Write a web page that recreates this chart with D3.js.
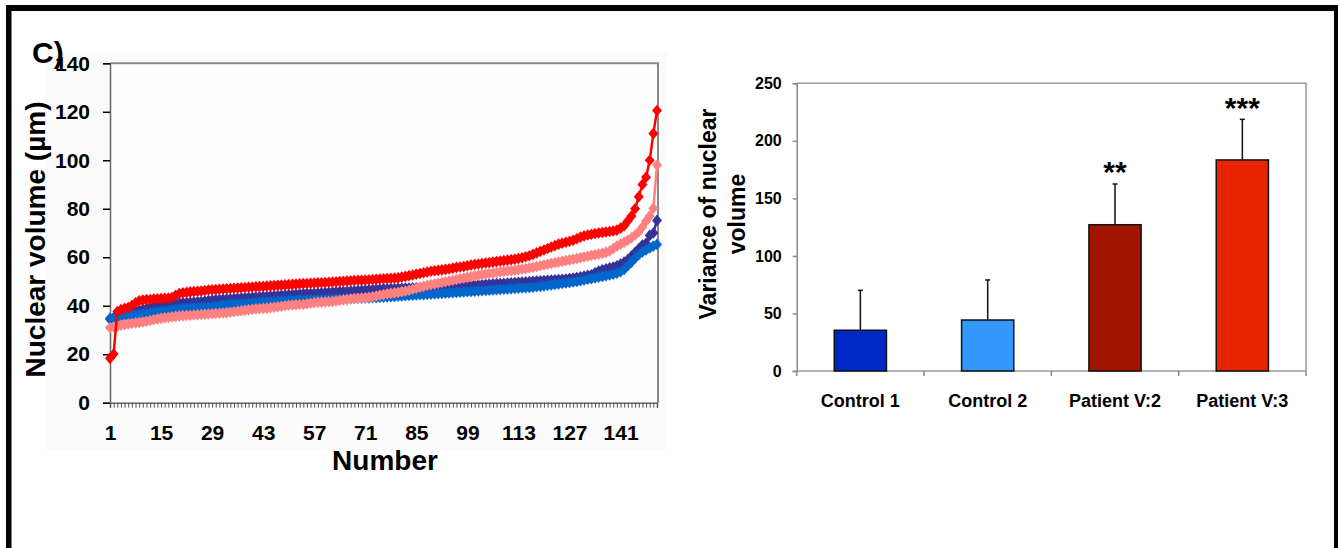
<!DOCTYPE html>
<html>
<head>
<meta charset="utf-8">
<script src="https://cdn.jsdelivr.net/npm/d3@7"></script>
<style>
  html, body { margin: 0; padding: 0; background: #fff; }
  svg { display: block; font-family: "Liberation Sans", Arial, sans-serif; }
</style>
</head>
<body>
<svg id="chart" width="1338" height="548"></svg>
<script>
// ---------------- Left panel data (sorted nuclear volumes, 151 nuclei each) ----------------
const seriesRed = [
  18.3, 20.1, 37.6, 38.4, 38.9, 39.3, 40.1, 41.2, 42.0, 42.3,
  42.5, 42.6, 42.8, 42.9, 43.0, 43.1, 43.2, 43.4, 44.3, 45.0,
  45.3, 45.5, 45.7, 45.9, 46.0, 46.1, 46.3, 46.5, 46.6, 46.7,
  46.8, 46.9, 47.0, 47.1, 47.2, 47.3, 47.4, 47.5, 47.6, 47.7,
  47.8, 47.9, 48.0, 48.1, 48.2, 48.3, 48.4, 48.5, 48.6, 48.7,
  48.8, 48.9, 49.0, 49.1, 49.2, 49.3, 49.4, 49.5, 49.5, 49.6,
  49.7, 49.8, 49.9, 50.0, 50.1, 50.2, 50.3, 50.4, 50.5, 50.5,
  50.6, 50.7, 50.8, 50.9, 51.0, 51.1, 51.2, 51.3, 51.4, 51.5,
  51.8, 52.1, 52.4, 52.7, 53.0, 53.3, 53.6, 53.9, 54.2, 54.4,
  54.6, 54.8, 55.0, 55.2, 55.5, 55.8, 56.0, 56.2, 56.5, 56.8,
  57.0, 57.2, 57.4, 57.6, 57.8, 58.0, 58.2, 58.4, 58.6, 58.8,
  59.0, 59.2, 59.5, 59.8, 60.2, 60.6, 61.2, 61.8, 62.4, 63.0,
  63.6, 64.2, 64.8, 65.4, 65.8, 66.2, 66.6, 67.0, 67.6, 68.3,
  68.8, 69.2, 69.5, 69.8, 70.0, 70.2, 70.4, 70.6, 70.8, 71.2,
  72.0, 73.0, 75.0, 77.0, 80.0, 85.0, 90.0, 93.0, 100.0, 111.0, 120.5
];
const seriesPink = [
  30.9, 31.2, 31.6, 32.0, 32.3, 32.5, 32.7, 32.9, 33.1, 33.3,
  33.6, 33.9, 34.2, 34.5, 34.8, 35.0, 35.2, 35.4, 35.6, 35.8,
  35.9, 36.0, 36.1, 36.2, 36.3, 36.4, 36.5, 36.6, 36.7, 36.8,
  36.9, 37.0, 37.1, 37.3, 37.5, 37.7, 37.9, 38.1, 38.3, 38.5,
  38.7, 38.8, 38.9, 39.0, 39.2, 39.4, 39.6, 39.8, 40.0, 40.2,
  40.3, 40.4, 40.5, 40.6, 40.8, 41.0, 41.2, 41.4, 41.5, 41.6,
  41.7, 41.8, 42.0, 42.2, 42.4, 42.6, 42.8, 43.0, 43.1, 43.2,
  43.3, 43.5, 43.7, 44.0, 44.3, 44.6, 44.9, 45.1, 45.3, 45.5,
  45.8, 46.1, 46.4, 46.8, 47.2, 47.6, 48.0, 48.4, 48.7, 49.0,
  49.3, 49.6, 49.9, 50.2, 50.5, 50.8, 51.1, 51.4, 51.7, 52.0,
  52.3, 52.6, 52.9, 53.1, 53.3, 53.5, 53.7, 53.9, 54.1, 54.3,
  54.5, 54.7, 54.9, 55.1, 55.3, 55.6, 55.9, 56.2, 56.5, 56.8,
  57.1, 57.4, 57.7, 58.0, 58.3, 58.6, 58.9, 59.2, 59.5, 59.8,
  60.1, 60.4, 60.7, 61.0, 61.3, 61.6, 62.0, 62.6, 63.6, 64.6,
  65.4, 66.2, 67.0, 68.0, 69.2, 70.5, 72.5, 75.0, 77.0, 80.2, 98.0
];
const seriesNavy = [
  34.4, 35.0, 35.6, 36.2, 36.7, 37.1, 37.5, 37.8, 38.1, 38.4,
  38.8, 39.2, 39.6, 39.9, 40.2, 40.5, 40.7, 40.9, 41.0, 41.1,
  41.2, 41.3, 41.4, 41.5, 41.6, 41.7, 41.9, 42.1, 42.3, 42.5,
  42.6, 42.7, 42.8, 42.9, 43.0, 43.1, 43.2, 43.3, 43.4, 43.5,
  43.6, 43.7, 43.8, 43.9, 44.0, 44.1, 44.2, 44.3, 44.4, 44.5,
  44.6, 44.7, 44.8, 44.9, 45.0, 45.0, 45.1, 45.2, 45.3, 45.4,
  45.5, 45.6, 45.7, 45.8, 45.9, 46.0, 46.1, 46.2, 46.3, 46.4,
  46.5, 46.6, 46.7, 46.8, 46.9, 47.0, 47.0, 47.1, 47.1, 47.2,
  47.2, 47.3, 47.3, 47.4, 47.4, 47.5, 47.5, 47.6, 47.6, 47.7,
  47.7, 47.8, 47.8, 47.9, 47.9, 48.0, 48.1, 48.2, 48.3, 48.4,
  48.5, 48.6, 48.7, 48.8, 48.9, 49.0, 49.1, 49.2, 49.3, 49.4,
  49.5, 49.6, 49.7, 49.8, 49.9, 50.0, 50.1, 50.2, 50.3, 50.4,
  50.5, 50.6, 50.7, 50.8, 50.9, 51.0, 51.2, 51.4, 51.6, 51.9,
  52.2, 52.5, 52.8, 53.6, 54.3, 54.8, 55.2, 55.6, 56.0, 56.5,
  57.2, 58.0, 59.0, 60.5, 62.0, 63.5, 65.0, 65.8, 69.0, 70.0, 75.2
];
const seriesBlue = [
  34.8, 35.0, 35.3, 35.5, 35.7, 35.9, 36.0, 36.2, 36.4, 36.6,
  36.8, 37.0, 37.2, 37.4, 37.6, 37.8, 38.0, 38.2, 38.4, 38.6,
  38.8, 38.9, 39.0, 39.1, 39.2, 39.3, 39.4, 39.5, 39.6, 39.8,
  40.0, 40.2, 40.4, 40.5, 40.6, 40.7, 40.8, 40.9, 41.0, 41.1,
  41.2, 41.3, 41.4, 41.5, 41.6, 41.7, 41.8, 41.9, 42.0, 42.1,
  42.2, 42.2, 42.3, 42.3, 42.4, 42.4, 42.5, 42.5, 42.6, 42.6,
  42.7, 42.7, 42.8, 42.8, 42.9, 42.9, 43.0, 43.0, 43.1, 43.1,
  43.2, 43.2, 43.3, 43.3, 43.4, 43.5, 43.6, 43.7, 43.8, 43.9,
  44.0, 44.1, 44.2, 44.3, 44.4, 44.5, 44.6, 44.7, 44.8, 44.9,
  45.0, 45.1, 45.2, 45.3, 45.4, 45.5, 45.6, 45.7, 45.8, 45.9,
  46.0, 46.1, 46.2, 46.3, 46.4, 46.5, 46.6, 46.7, 46.8, 46.9,
  47.0, 47.1, 47.2, 47.3, 47.4, 47.5, 47.6, 47.8, 48.0, 48.2,
  48.4, 48.6, 48.8, 49.0, 49.2, 49.4, 49.6, 49.8, 50.0, 50.3,
  50.6, 50.9, 51.2, 51.5, 51.8, 52.1, 52.4, 52.7, 53.0, 53.4,
  54.0, 55.0, 56.5, 58.0, 59.6, 61.0, 62.2, 63.0, 63.8, 64.6, 65.3
];
const lineColors = ["#333399", "#0066cc", "#ff8080", "#ff0000"];
const yTicksLeft = [0, 20, 40, 60, 80, 100, 120, 140];
const xLabelEvery = 14;

// ---------------- Right panel data ----------------
const barCategories = ["Control 1", "Control 2", "Patient V:2", "Patient V:3"];
const barValues = [35.4, 44.3, 127.1, 183.4];
const barErrors = [34.7, 34.8, 35.4, 35.3];
const barColors = ["#0028c8", "#3399ff", "#a01400", "#e82400"];
const barStars = ["", "", "**", "***"];
const yTicksRight = [0, 50, 100, 150, 200, 250];

const svg = d3.select("#chart");

// outer frame
svg.append("rect").attr("x", 6).attr("y", 5).attr("width", 1332).attr("height", 6).attr("fill", "#000");
svg.append("rect").attr("x", 6).attr("y", 5).attr("width", 5.5).attr("height", 543).attr("fill", "#000");
svg.append("rect").attr("x", 1334).attr("y", 5).attr("width", 4).attr("height", 543).attr("fill", "#000");

// ---------------- Left panel ----------------
const L = { x0: 110, x1: 657, y0: 402.7, y1: 63.3, right: 658 };
svg.append("rect").attr("x", 45).attr("y", 53).attr("width", 622).attr("height", 397).attr("fill", "#fbfbfb");
svg.append("rect").attr("x", L.x0).attr("y", L.y1).attr("width", L.right - L.x0).attr("height", L.y0 - L.y1).attr("fill", "#fefefe");

const xL = d3.scaleLinear().domain([1, seriesRed.length]).range([L.x0, L.x1]);
const yL = d3.scaleLinear().domain([0, 140]).range([L.y0, L.y1]);

// plot border top/right
svg.append("path").attr("d", `M${L.x0},${L.y1}H${L.right}V${L.y0}`).attr("fill", "none").attr("stroke", "#8a8a8a").attr("stroke-width", 2);

const gyL = svg.append("g").attr("transform", `translate(${L.x0},0)`)
  .call(d3.axisLeft(yL).tickValues(yTicksLeft).tickSize(7).tickPadding(13).tickFormat(d3.format("d")));
gyL.select(".domain").attr("stroke", "#666").attr("stroke-width", 1.5);
gyL.selectAll(".tick line").attr("stroke", "#000").attr("stroke-width", 1.5);
gyL.selectAll("text").attr("font-size", 21).attr("font-weight", "bold").attr("fill", "#000")
  .attr("font-family", "Liberation Sans, Arial, sans-serif");

const idx = d3.range(1, seriesRed.length + 1);
const gxL = svg.append("g").attr("transform", `translate(0,${L.y0})`)
  .call(d3.axisBottom(xL).tickValues(idx).tickSize(5).tickPadding(17)
    .tickFormat(d => ((d - 1) % xLabelEvery === 0 && d <= 141) ? d : ""));
gxL.select(".domain").attr("stroke", "#666").attr("stroke-width", 1.5);
gxL.selectAll(".tick line").attr("stroke", "#555").attr("stroke-width", 1);
gxL.selectAll("text").attr("font-size", 21).attr("font-weight", "bold").attr("fill", "#000")
  .attr("font-family", "Liberation Sans, Arial, sans-serif");

const allSeries = [seriesNavy, seriesBlue, seriesPink, seriesRed];
const line = d3.line().x((d, i) => xL(i + 1)).y(d => yL(d));
const diamond = "M0,-5.8L5,0L0,5.8L-5,0Z";
allSeries.forEach((s, k) => {
  const g = svg.append("g");
  g.append("path").datum(s).attr("d", line).attr("fill", "none")
    .attr("stroke", lineColors[k]).attr("stroke-width", 2.5);
  g.selectAll("path.m").data(s).enter().append("path").attr("class", "m")
    .attr("d", diamond)
    .attr("transform", (d, i) => `translate(${xL(i + 1)},${yL(d)})`)
    .attr("fill", lineColors[k]);
});

// titles
svg.append("text").attr("x", 385).attr("y", 470).attr("text-anchor", "middle")
  .attr("font-size", 28).attr("font-weight", "bold").text("Number");
svg.append("text").attr("transform", "translate(45,239.5) rotate(-90)").attr("text-anchor", "middle")
  .attr("font-size", 28).attr("font-weight", "bold").text("Nuclear volume (µm)");
svg.append("text").attr("x", 32).attr("y", 63).attr("font-size", 30).attr("font-weight", "bold").text("C)");

// ---------------- Right panel ----------------
const R = { x0: 796.7, x1: 1306, y0: 371, y1: 83.3 };
const xR = d3.scaleBand().domain(barCategories).range([R.x0, R.x1]).paddingInner(0.59).paddingOuter(0.295);
const yR = d3.scaleLinear().domain([0, 250]).range([R.y0, R.y1]);

svg.append("path").attr("d", `M${R.x0},${R.y1}H${R.x1}V${R.y0}`).attr("fill", "none").attr("stroke", "#999").attr("stroke-width", 1.5);

const gyR = svg.append("g").attr("transform", `translate(${R.x0},0)`)
  .call(d3.axisLeft(yR).tickValues(yTicksRight).tickSize(4).tickPadding(11));
gyR.select(".domain").attr("stroke", "#888").attr("stroke-width", 1.5);
gyR.selectAll(".tick line").attr("stroke", "#888").attr("stroke-width", 1.5);
gyR.selectAll("text").attr("font-size", 16).attr("font-weight", "bold").attr("fill", "#000")
  .attr("font-family", "Liberation Sans, Arial, sans-serif");

// x axis line and boundary ticks
svg.append("line").attr("x1", R.x0).attr("x2", R.x1).attr("y1", R.y0).attr("y2", R.y0).attr("stroke", "#999").attr("stroke-width", 1.5);
const step = xR.step();
d3.range(barCategories.length + 1).forEach(k => {
  const bx = R.x0 + k * step;
  svg.append("line").attr("x1", bx).attr("x2", bx).attr("y1", R.y0).attr("y2", R.y0 + 5).attr("stroke", "#888").attr("stroke-width", 1.5);
});

const bw = xR.bandwidth();
barCategories.forEach((c, i) => {
  const cx = xR(c) + bw / 2;
  const top = yR(barValues[i] + barErrors[i]);
  svg.append("line").attr("x1", cx).attr("x2", cx).attr("y1", yR(barValues[i])).attr("y2", top)
    .attr("stroke", "#111").attr("stroke-width", 1.5);
  svg.append("line").attr("x1", cx - 2.5).attr("x2", cx + 2.5).attr("y1", top).attr("y2", top)
    .attr("stroke", "#111").attr("stroke-width", 1.5);
  svg.append("rect").attr("x", xR(c)).attr("y", yR(barValues[i])).attr("width", bw).attr("height", yR(0) - yR(barValues[i]))
    .attr("fill", barColors[i]).attr("stroke", "#111").attr("stroke-width", 1.5);
  svg.append("text").attr("x", cx).attr("y", 406.5).attr("text-anchor", "middle")
    .attr("font-size", 18).attr("font-weight", "bold").text(c);
  if (barStars[i]) {
    svg.append("text").attr("x", cx).attr("y", top - 1.5)
      .attr("text-anchor", "middle").attr("font-size", 30).attr("font-weight", "bold")
      .text(barStars[i]);
  }
});

// right y title (two lines)
const tR = svg.append("text").attr("transform", "translate(716,214) rotate(-90)").attr("text-anchor", "middle")
  .attr("font-size", 23).attr("font-weight", "bold");
tR.append("tspan").attr("x", 0).attr("dy", 0).text("Variance of nuclear");
tR.append("tspan").attr("x", 0).attr("dy", 29).text("volume");
</script>
</body>
</html>
